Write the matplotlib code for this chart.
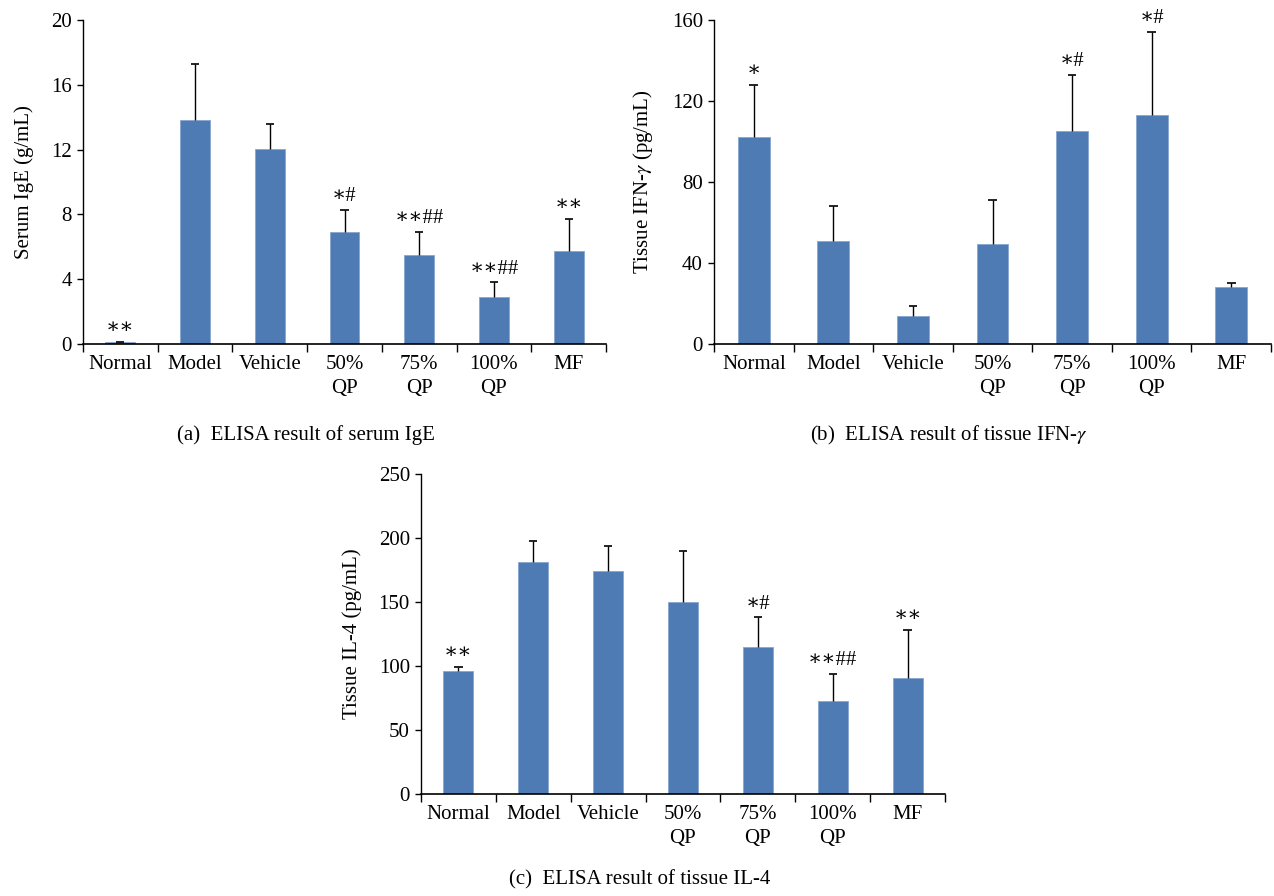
import numpy as np
import matplotlib
matplotlib.use("Agg")
import matplotlib.pyplot as plt

plt.rcParams["font.family"] = ["Liberation Serif", "DejaVu Serif"]
plt.rcParams["mathtext.fontset"] = "stix"

groups = ["Normal", "Model", "Vehicle", "50%\nQP", "75%\nQP", "100%\nQP", "MF"]

ige_mean = [0.1, 13.8, 12.05, 6.9, 5.5, 2.9, 5.75]
ige_top = [0.1, 17.3, 13.6, 8.3, 6.9, 3.8, 7.7]
ige_marks = ["∗∗", "", "", "∗#", "∗∗##", "∗∗##", "∗∗"]

ifn_mean = [102, 51, 14, 49.5, 105, 113, 28]
ifn_top = [128, 68, 19, 71, 133, 154, 30]
ifn_marks = ["∗", "", "", "", "∗#", "∗#", ""]

il4_mean = [96, 181, 174, 150, 115, 73, 91]
il4_top = [99, 198, 194, 190, 138, 94, 128]
il4_marks = ["∗∗", "", "", "", "∗#", "∗∗##", "∗∗"]

bar_color = "#4F7BB5"
fs = 15


def draw_panel(ax, mean, top, marks, ymax, ystep, ylabel):
    x = np.arange(len(groups))
    ax.bar(x, mean, width=0.4, color=bar_color, edgecolor="#86A6D0", linewidth=0.6, zorder=2)
    # upper error bars only, no cap at the bar top
    ax.vlines(x, mean, top, colors="black", linewidth=1.0, zorder=3)
    ax.hlines(top, x - 0.055, x + 0.055, colors="black", linewidth=1.2, zorder=3)
    pad = ymax * 0.012
    for xi, t, m in zip(x, top, marks):
        if m:
            ax.text(xi, t + pad, m, ha="center", va="bottom", fontsize=fs)
    ax.set_xlim(-0.5, len(groups) - 0.5)
    ax.set_ylim(0, ymax)
    ax.set_yticks(np.arange(0, ymax + ystep / 2, ystep))
    ax.set_xticks(np.arange(-0.5, len(groups), 1.0))
    ax.set_xticklabels([])
    ax.set_xticks(x, minor=True)
    ax.set_xticklabels(groups, minor=True, fontsize=fs, linespacing=1.35)
    ax.tick_params(axis="x", which="major", direction="out", length=5.5, width=1)
    ax.tick_params(axis="x", which="minor", length=0, pad=8)
    ax.tick_params(axis="y", direction="out", length=4, width=1, labelsize=fs, pad=4)
    for s in ["top", "right"]:
        ax.spines[s].set_visible(False)
    ax.spines["left"].set_linewidth(1)
    ax.spines["bottom"].set_linewidth(1.2)
    ax.set_ylabel(ylabel, fontsize=fs, labelpad=12)


fig = plt.figure(figsize=(12.74, 8.96), dpi=100)
ax_a = fig.add_axes([83 / 1274, 1 - 344 / 896, 523 / 1274, 324 / 896])
ax_b = fig.add_axes([714 / 1274, 1 - 344 / 896, 557 / 1274, 324 / 896])
ax_c = fig.add_axes([421 / 1274, 1 - 794 / 896, 524 / 1274, 320 / 896])

draw_panel(ax_a, ige_mean, ige_top, ige_marks, 20, 4, "Serum IgE (g/mL)")
draw_panel(ax_b, ifn_mean, ifn_top, ifn_marks, 160, 40, "Tissue IFN-$\\mathit{\\gamma}$ (pg/mL)")
draw_panel(ax_c, il4_mean, il4_top, il4_marks, 250, 50, "Tissue IL-4 (pg/mL)")

fig.text(306 / 1274, 1 - 435 / 896, "(a)  ELISA result of serum IgE", ha="center", va="center", fontsize=fs)
fig.text(949 / 1274, 1 - 435 / 896, "(b)  ELISA result of tissue IFN-$\\mathit{\\gamma}$", ha="center", va="center", fontsize=fs)
fig.text(640 / 1274, 1 - 880 / 896, "(c)  ELISA result of tissue IL-4", ha="center", va="center", fontsize=fs)

fig.savefig("out.png", dpi=100)
